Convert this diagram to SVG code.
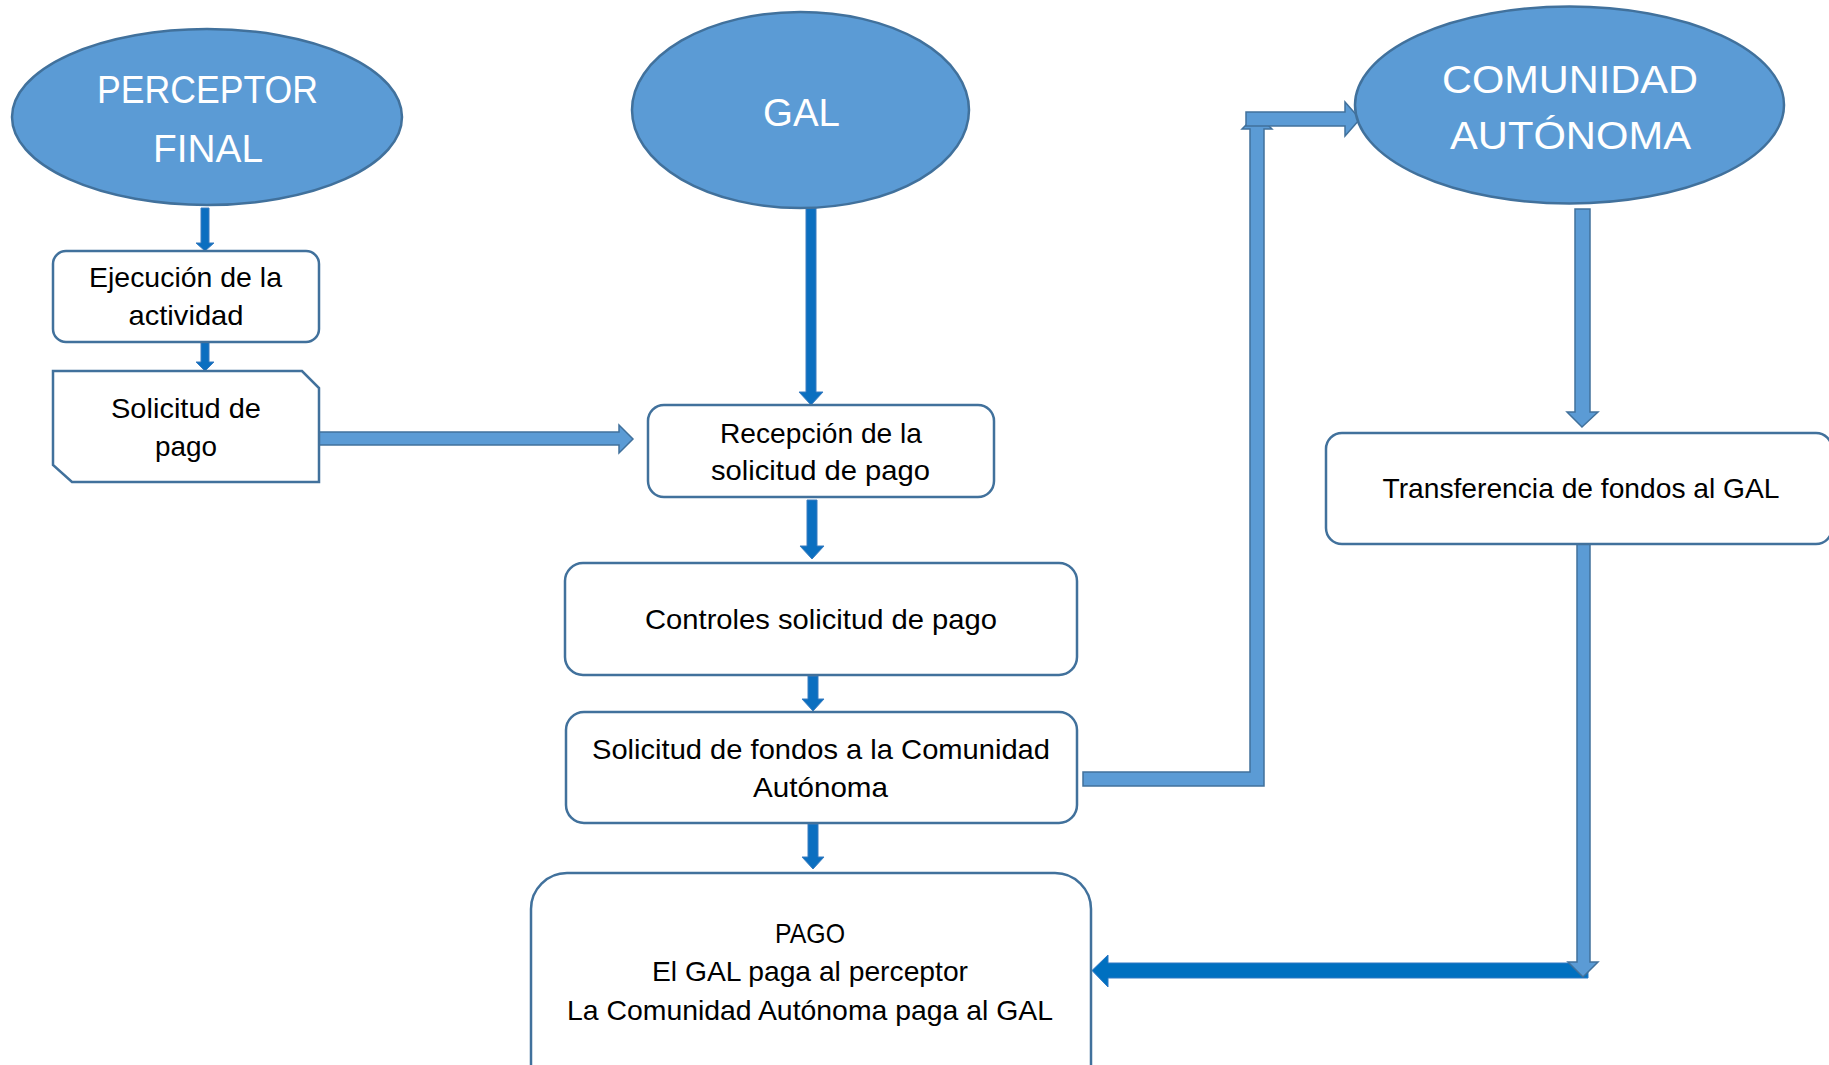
<svg xmlns="http://www.w3.org/2000/svg" width="1829" height="1065" viewBox="0 0 1829 1065">
<style>
.ell{fill:#5B9BD5;stroke:#41719C;stroke-width:2.5}
.box{fill:#FFFFFF;stroke:#41719C;stroke-width:2.5}
.et{font-family:"Liberation Sans",Arial,sans-serif;font-size:39px;fill:#FFFFFF;text-anchor:middle}
.bt{font-family:"Liberation Sans",Arial,sans-serif;font-size:28px;fill:#000000;text-anchor:middle}
.da{fill:#0B6FC0;stroke:#3A7DC0;stroke-width:1}
.la{fill:#5B9BD5;stroke:#41719C;stroke-width:1.5}
.dh{fill:#0070C0;stroke:#2E78C4;stroke-width:1}
</style>
<rect width="1829" height="1065" fill="#FFFFFF"/>
<g id="connectors">
<path class="da" d="M201,208 H209 V243 H214 L205,251 L196,243 H201 Z"/>
<path class="da" d="M201,342 H209 V362 H214 L205,371 L196,362 H201 Z"/>
<path class="da" d="M806,208 H816 V392 H823 L811,405 L799,392 H806 Z"/>
<path class="da" d="M807,500 H817 V546 H824 L812,559 L800,546 H807 Z"/>
<path class="da" d="M808,676 H818 V699 H824 L813,711 L802,699 H808 Z"/>
<path class="da" d="M808,824 H818 V857 H824 L813,869 L802,857 H808 Z"/>
<path class="la" d="M319,432 H619 V425 L633,439 L619,453 V445 H319 Z"/>
<path class="la" d="M1083,772 H1250 V129 H1242 L1257,114 L1272,129 H1264 V786 H1083 Z"/>
<path class="la" d="M1246,112 H1345 V102 L1360,119 L1345,136 V126 H1246 Z"/>
<path class="la" d="M1575,209 H1590 V412 H1598 L1582,427 L1567,412 H1575 Z"/>
<path class="dh" d="M1588,963 V978 H1108 V987 L1092,970.5 L1108,955 V963 Z"/>
<path class="la" d="M1577,544 H1590 V962 H1598 L1583,977 L1568,962 H1577 Z"/>
</g>
<g id="perceptor">
<ellipse class="ell" cx="207" cy="117" rx="195" ry="88"/>
<text class="et" x="207.5" y="103" textLength="221" lengthAdjust="spacingAndGlyphs">PERCEPTOR</text>
<text class="et" x="208" y="162" textLength="110" lengthAdjust="spacingAndGlyphs">FINAL</text>
</g>
<g id="gal">
<ellipse class="ell" cx="800.5" cy="110" rx="168.5" ry="98"/>
<text class="et" x="801.5" y="126" textLength="77" lengthAdjust="spacingAndGlyphs">GAL</text>
</g>
<g id="comunidad">
<ellipse class="ell" cx="1569.5" cy="105" rx="214.5" ry="98.5"/>
<text class="et" x="1570" y="93" textLength="256" lengthAdjust="spacingAndGlyphs">COMUNIDAD</text>
<text class="et" x="1570.5" y="149" textLength="241" lengthAdjust="spacingAndGlyphs">AUTÓNOMA</text>
</g>
<g id="ejecucion">
<rect class="box" x="53" y="251" width="266" height="91" rx="13"/>
<text class="bt" x="185.5" y="287" textLength="193" lengthAdjust="spacingAndGlyphs">Ejecución de la</text>
<text class="bt" x="186" y="325" textLength="115" lengthAdjust="spacingAndGlyphs">actividad</text>
</g>
<g id="solicitud-pago">
<path class="box" d="M53,371 H302 L319,388 V482 H72 L53,465 Z"/>
<text class="bt" x="186" y="418" textLength="150" lengthAdjust="spacingAndGlyphs">Solicitud de</text>
<text class="bt" x="186" y="456" textLength="62" lengthAdjust="spacingAndGlyphs">pago</text>
</g>
<g id="recepcion">
<rect class="box" x="648" y="405" width="346" height="92" rx="16"/>
<text class="bt" x="821" y="443" textLength="202" lengthAdjust="spacingAndGlyphs">Recepción de la</text>
<text class="bt" x="820.5" y="480" textLength="219" lengthAdjust="spacingAndGlyphs">solicitud de pago</text>
</g>
<g id="controles">
<rect class="box" x="565" y="563" width="512" height="112" rx="18"/>
<text class="bt" x="821" y="629" textLength="352" lengthAdjust="spacingAndGlyphs">Controles solicitud de pago</text>
</g>
<g id="solicitud-fondos">
<rect class="box" x="566" y="712" width="511" height="111" rx="18"/>
<text class="bt" x="821" y="759" textLength="458" lengthAdjust="spacingAndGlyphs">Solicitud de fondos a la Comunidad</text>
<text class="bt" x="820.5" y="797" textLength="135" lengthAdjust="spacingAndGlyphs">Autónoma</text>
</g>
<g id="transferencia">
<rect class="box" x="1326" y="433" width="506" height="111" rx="16"/>
<text class="bt" x="1581" y="498" textLength="397" lengthAdjust="spacingAndGlyphs">Transferencia de fondos al GAL</text>
</g>
<g id="pago">
<rect class="box" x="531" y="873" width="560" height="230" rx="36"/>
<text class="bt" x="810" y="943" textLength="70" lengthAdjust="spacingAndGlyphs">PAGO</text>
<text class="bt" x="810" y="981" textLength="316" lengthAdjust="spacingAndGlyphs">El GAL paga al perceptor</text>
<text class="bt" x="810" y="1020" textLength="486" lengthAdjust="spacingAndGlyphs">La Comunidad Autónoma paga al GAL</text>
</g>
</svg>
